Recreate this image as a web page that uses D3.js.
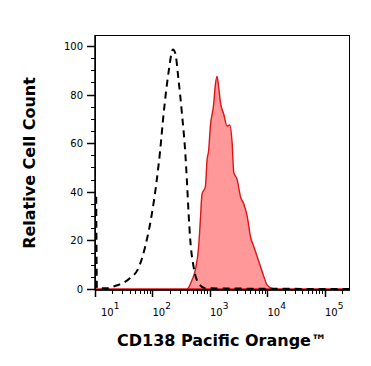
<!DOCTYPE html>
<html>
<head>
<meta charset="utf-8">
<script src="https://cdn.jsdelivr.net/npm/d3@7"></script>
<style>
  body { margin: 0; background: #fff; }
  text { font-family: "DejaVu Sans", sans-serif; }
</style>
</head>
<body>
<script>
// isotype control (dashed) : [fluorescence, relative count]
var controlX = [10.5, 10.8, 16, 20.6, 40.8, 57, 74.6, 97.7, 119, 136, 156, 190, 227, 249, 284, 326, 372, 398, 425, 455, 520, 635, 832, 262144];
var controlY = [38, 0.5, 0.3, 1, 4.5, 8.6, 17.4, 31, 45, 57, 72, 89, 98.5, 97, 86, 72, 56, 44, 31, 20, 9, 2.3, 0.3, 0];

// CD138 stained (red filled)
var stainX = [10, 398, 487, 556, 635, 679, 727, 831, 889, 948, 1016, 1160, 1241, 1330, 1419, 1515, 1733, 1985, 2206, 2431, 2594, 2971, 3395, 3875, 4440, 5070, 5795, 6635, 7580, 8650, 9905, 12940, 262144];
var stainY = [0, 0, 3.7, 7.8, 17.4, 28, 39, 42, 53, 57, 67, 76, 84, 87.5, 83, 77, 72, 67, 67.5, 60, 48, 45, 38, 35, 30, 21.5, 17.4, 13.3, 9.2, 5.1, 1.6, 0, 0];

var yTicks = [0, 20, 40, 60, 80, 100];
var xDecades = [1, 2, 3, 4, 5];

var width = 371, height = 366;
var svg = d3.select("body").append("svg")
  .attr("width", width).attr("height", height);

var x = d3.scaleLog().domain([10, 262144]).range([95, 349]);
var y = d3.scaleLinear().domain([-0.4, 104.5]).range([290, 35]);

var control = controlX.map(function(d, i){ return [d, controlY[i]]; });
var stain = stainX.map(function(d, i){ return [d, stainY[i]]; });

// filled histogram
svg.append("path")
  .datum(stain)
  .attr("fill", "#ff9999")
  .attr("stroke", "#dc1418")
  .attr("stroke-width", 1.4)
  .attr("d", d3.area()
    .x(function(d){ return x(d[0]); })
    .y0(y(0))
    .y1(function(d){ return y(d[1]); })
    .curve(d3.curveMonotoneX));

// dashed control
svg.append("path")
  .datum(control)
  .attr("fill", "none")
  .attr("stroke", "#000")
  .attr("stroke-width", 2)
  .attr("stroke-dasharray", "7,5")
  .attr("d", d3.line()
    .x(function(d){ return x(d[0]); })
    .y(function(d){ return y(d[1]); })
    .curve(d3.curveMonotoneX));

// frame
svg.append("rect")
  .attr("x", 95.5).attr("y", 35.5)
  .attr("width", 254).attr("height", 254.5)
  .attr("fill", "none").attr("stroke", "#000").attr("stroke-width", 1);

// y axis
var yMinor = d3.range(0, 101, 5);
svg.append("g").selectAll("line").data(yMinor).enter().append("line")
  .attr("x1", function(d){ return d % 20 === 0 ? 87 : 91; })
  .attr("x2", 95)
  .attr("y1", function(d){ return Math.round(y(d)) + 0.5; })
  .attr("y2", function(d){ return Math.round(y(d)) + 0.5; })
  .attr("stroke", "#000")
  .attr("stroke-width", function(d){ return d % 20 === 0 ? 1.5 : 1; });

svg.append("g").selectAll("text").data(yTicks).enter().append("text")
  .attr("x", 83).attr("y", function(d){ return y(d) + 4; })
  .attr("text-anchor", "end")
  .attr("font-size", 10)
  .text(function(d){ return d; });

svg.append("line")
  .attr("x1", 95).attr("x2", 95).attr("y1", 35).attr("y2", 290)
  .attr("stroke", "#000").attr("stroke-width", 1.5);

// x axis
var xMinor = [];
xDecades.forEach(function(p){
  for (var m = 1; m < 10; m++) {
    var v = m * Math.pow(10, p);
    if (v <= 262144) xMinor.push(v);
  }
});
svg.append("g").selectAll("line").data(xMinor).enter().append("line")
  .attr("x1", function(d){ return Math.round(x(d)) + 0.5; })
  .attr("x2", function(d){ return Math.round(x(d)) + 0.5; })
  .attr("y1", 290)
  .attr("y2", function(d){ return xDecades.indexOf(Math.log10(d)) >= 0 ? 297 : 294; })
  .attr("stroke", "#000")
  .attr("stroke-width", function(d){ return xDecades.indexOf(Math.log10(d)) >= 0 ? 1.5 : 1; });

var xl = svg.append("g").selectAll("text").data(xDecades).enter().append("text")
  .attr("x", function(d){ return d === 1 ? 101 : x(Math.pow(10, d)); })
  .attr("y", 316)
  .attr("font-size", 10);
xl.append("tspan").text("10");
xl.append("tspan").attr("dy", -7).attr("font-size", 9).text(function(d){ return d; });

svg.append("line")
  .attr("x1", 95).attr("x2", 350).attr("y1", 290).attr("y2", 290)
  .attr("stroke", "#000").attr("stroke-width", 1.5);

// titles
svg.append("text")
  .attr("x", 222).attr("y", 346)
  .attr("text-anchor", "middle")
  .attr("font-size", 16).attr("font-weight", "bold")
  .text("CD138 Pacific Orange™");

svg.append("text")
  .attr("transform", "translate(35,163) rotate(-90)")
  .attr("text-anchor", "middle")
  .attr("font-size", 16).attr("font-weight", "bold")
  .text("Relative Cell Count");
</script>
</body>
</html>
